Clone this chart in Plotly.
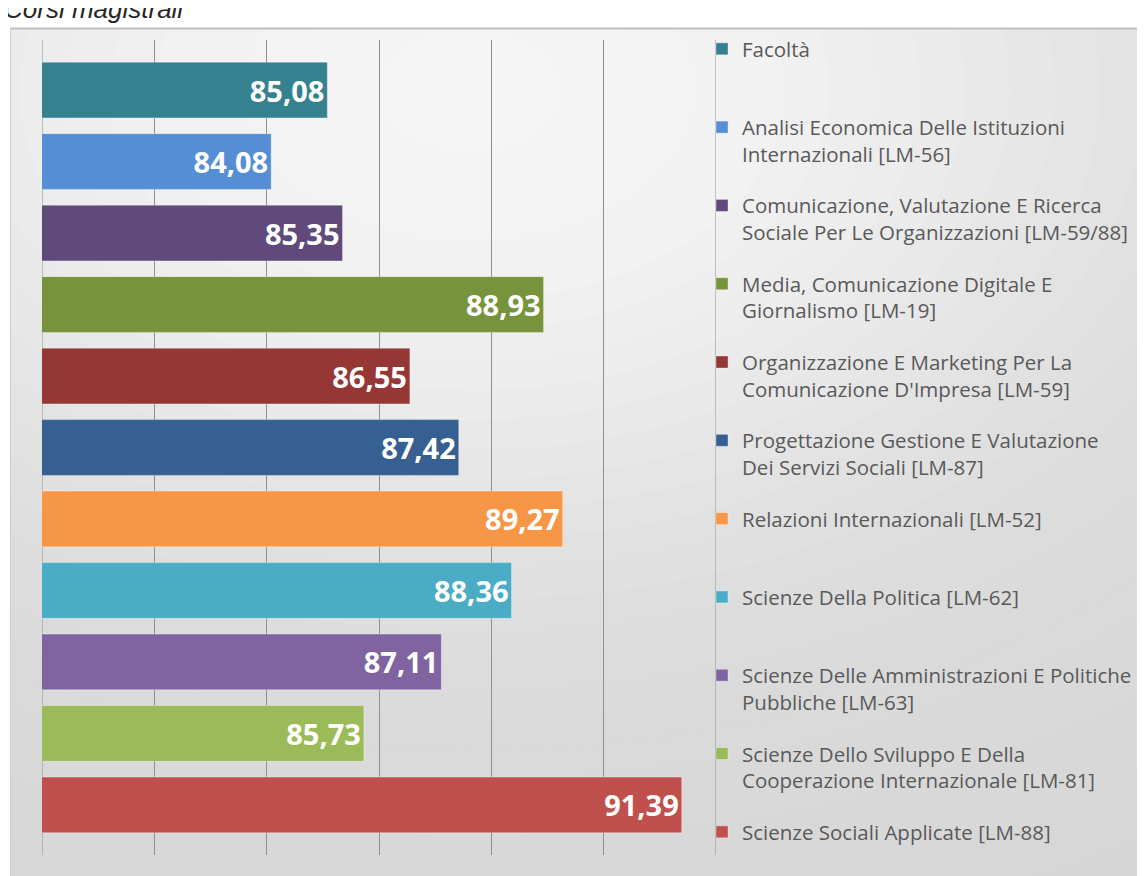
import plotly.graph_objects as go

# ---------------- data ----------------
categories = [
    "Facoltà",
    "Analisi Economica Delle Istituzioni<br>Internazionali [LM-56]",
    "Comunicazione, Valutazione E Ricerca<br>Sociale Per Le Organizzazioni [LM-59/88]",
    "Media, Comunicazione Digitale E<br>Giornalismo [LM-19]",
    "Organizzazione E Marketing Per La<br>Comunicazione D'Impresa [LM-59]",
    "Progettazione Gestione E Valutazione<br>Dei Servizi Sociali [LM-87]",
    "Relazioni Internazionali [LM-52]",
    "Scienze Della Politica [LM-62]",
    "Scienze Delle Amministrazioni E Politiche<br>Pubbliche [LM-63]",
    "Scienze Dello Sviluppo E Della<br>Cooperazione Internazionale [LM-81]",
    "Scienze Sociali Applicate [LM-88]",
]
values = [85.08, 84.08, 85.35, 88.93, 86.55, 87.42, 89.27, 88.36, 87.11, 85.73, 91.39]
colors = ["#35818F", "#558ED5", "#604A7B", "#77933C", "#953735", "#376092",
          "#F79646", "#4BACC6", "#8064A2", "#9BBB59", "#C0504D"]
x_range = [80, 92]
title_text = "Corsi magistrali"

# ---------------- figure geometry ----------------
# The page body adds an 8px offset; coordinates below are given in screenshot pixels.
W, H = 1145, 876
OFF = 8
PLOT_L, PLOT_R, PLOT_T, PLOT_B = 42, 716, 40, 855   # screenshot px
ML = PLOT_L - OFF
MT = PLOT_T - OFF
MR = W - (PLOT_R - OFF)
MB = H - (PLOT_B - OFF)
PW, PH = W - ML - MR, H - MT - MB


def px2x(sx):
    return (sx - OFF - ML) / PW


def px2y(sy):
    return (H - MB - (sy - OFF)) / PH


fig = go.Figure()

for i, (cat, val, col) in enumerate(zip(categories, values, colors)):
    name = cat if "<br>" in cat else cat + "<br>\u00a0"
    fig.add_trace(go.Bar(
        y=[i], x=[val], orientation="h", name=name, legendgroup=str(i),
        marker=dict(color=col, line=dict(color="rgba(255,255,255,0.35)", width=1)),
        texttemplate="%{x:.2f}",
        textposition="inside", insidetextanchor="end",
        textfont=dict(color="white", size=29, family="Open Sans", weight="bold"),
        hoverinfo="skip",
    ))

# ---------------- background panel (approximate radial gradient) ----------------
shapes = [dict(type="rect", xref="paper", yref="paper", layer="below",
               x0=px2x(-20), x1=px2x(W + 20), y0=px2y(H + 20), y1=px2y(-20),
               line=dict(width=0), fillcolor="rgb(214,214,214)")]
cx, cy = 470, 90
stops = [(0, 246), (200, 242), (320, 236), (460, 226), (620, 219), (900, 214)]


def shade(r):
    for (r0, c0), (r1, c1) in zip(stops, stops[1:]):
        if r <= r1:
            t = (r - r0) / (r1 - r0)
            return round(c0 + t * (c1 - c0))
    return stops[-1][1]


for r in range(900, 0, -30):
    g = shade(r)
    shapes.append(dict(type="circle", xref="paper", yref="paper", layer="below",
                       x0=px2x(cx - 1.5 * r), x1=px2x(cx + 1.5 * r),
                       y0=px2y(cy + r), y1=px2y(cy - r),
                       line=dict(width=0), fillcolor=f"rgb({g},{g},{g})"))
# white areas outside the panel
shapes.append(dict(type="rect", xref="paper", yref="paper", layer="below",
                   x0=px2x(-20), x1=px2x(W + 20), y0=px2y(28), y1=px2y(-50),
                   line=dict(width=0), fillcolor="white"))
shapes.append(dict(type="rect", xref="paper", yref="paper", layer="below",
                   x0=px2x(-50), x1=px2x(10), y0=px2y(H + 50), y1=px2y(-50),
                   line=dict(width=0), fillcolor="white"))
# panel top shadow edge and left edge
shapes.append(dict(type="line", xref="paper", yref="paper", layer="below",
                   x0=px2x(10), x1=px2x(W + 20), y0=px2y(28.5), y1=px2y(28.5),
                   line=dict(color="#bfbfbf", width=2)))
shapes.append(dict(type="line", xref="paper", yref="paper", layer="below",
                   x0=px2x(10.5), x1=px2x(10.5), y0=px2y(28), y1=px2y(H + 20),
                   line=dict(color="#d0d0d0", width=1)))
# axis edge lines at the range limits
for xv in x_range:
    shapes.append(dict(type="line", xref="x", yref="paper", layer="below",
                       x0=xv, x1=xv, y0=0, y1=1,
                       line=dict(color="#8f8f8f", width=1)))

fig.update_layout(
    width=W, height=H,
    margin=dict(l=ML, r=MR, t=MT, b=MB, autoexpand=False),
    paper_bgcolor="white",
    plot_bgcolor="rgba(0,0,0,0)",
    barmode="relative",
    bargap=0.22,
    separators=",.",
    showlegend=True,
    shapes=shapes,
    legend=dict(
        x=px2x(702), y=px2y(29), xanchor="left", yanchor="top",
        bgcolor="rgba(0,0,0,0)",
        font=dict(family="Open Sans", size=20.5, color="#595959"),
        traceorder="grouped", tracegroupgap=22, valign="top",
        maxheight=2000,
        itemclick=False, itemdoubleclick=False,
    ),
    xaxis=dict(range=x_range, dtick=2, showgrid=True, gridcolor="#8f8f8f",
               gridwidth=1, showticklabels=False, zeroline=False, showline=False,
               ticks="", fixedrange=True),
    yaxis=dict(range=[10.7, -0.7], showticklabels=False, showgrid=False,
               zeroline=False, showline=False, fixedrange=True),
    annotations=[dict(
        text=title_text, xref="paper", yref="paper",
        x=px2x(2), y=px2y(9), xanchor="left", yanchor="middle",
        showarrow=False,
        font=dict(family="Liberation Sans", size=26, color="#262626", style="italic"),
    )],
)

fig.write_html("out.html")
